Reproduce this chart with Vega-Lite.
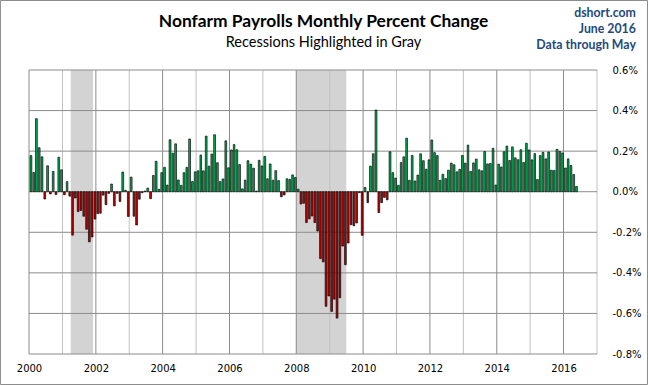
{
  "$schema": "https://vega.github.io/schema/vega-lite/v6.json",
  "width": 568,
  "height": 284,
  "autosize": "none",
  "padding": {"left": 29, "top": 70, "right": 51, "bottom": 31},
  "background": "white",
  "config": {"view": {"stroke": null}},
  "datasets": {
    "payrolls": [
      {"date": "2000-01-01", "pct": 0.178}, {"date": "2000-02-01", "pct": 0.095}, {"date": "2000-03-01", "pct": 0.36}, {"date": "2000-04-01", "pct": 0.217}, {"date": "2000-05-01", "pct": 0.172}, {"date": "2000-06-01", "pct": -0.036}, {"date": "2000-07-01", "pct": 0.128}, {"date": "2000-08-01", "pct": -0.011}, {"date": "2000-09-01", "pct": 0.1}, {"date": "2000-10-01", "pct": -0.014}, {"date": "2000-11-01", "pct": 0.17}, {"date": "2000-12-01", "pct": 0.108},
      {"date": "2001-01-01", "pct": -0.015}, {"date": "2001-02-01", "pct": 0.05}, {"date": "2001-03-01", "pct": -0.022}, {"date": "2001-04-01", "pct": -0.214}, {"date": "2001-05-01", "pct": -0.031}, {"date": "2001-06-01", "pct": -0.098}, {"date": "2001-07-01", "pct": -0.092}, {"date": "2001-08-01", "pct": -0.121}, {"date": "2001-09-01", "pct": -0.185}, {"date": "2001-10-01", "pct": -0.247}, {"date": "2001-11-01", "pct": -0.223}, {"date": "2001-12-01", "pct": -0.135},
      {"date": "2002-01-01", "pct": -0.108}, {"date": "2002-02-01", "pct": -0.106}, {"date": "2002-03-01", "pct": -0.017}, {"date": "2002-04-01", "pct": -0.064}, {"date": "2002-05-01", "pct": -0.008}, {"date": "2002-06-01", "pct": 0.038}, {"date": "2002-07-01", "pct": -0.07}, {"date": "2002-08-01", "pct": -0.008}, {"date": "2002-09-01", "pct": -0.048}, {"date": "2002-10-01", "pct": 0.097}, {"date": "2002-11-01", "pct": 0.007}, {"date": "2002-12-01", "pct": -0.122},
      {"date": "2003-01-01", "pct": 0.072}, {"date": "2003-02-01", "pct": -0.121}, {"date": "2003-03-01", "pct": -0.164}, {"date": "2003-04-01", "pct": -0.037}, {"date": "2003-05-01", "pct": -0.005}, {"date": "2003-06-01", "pct": 0.003}, {"date": "2003-07-01", "pct": 0.018}, {"date": "2003-08-01", "pct": -0.034}, {"date": "2003-09-01", "pct": 0.08}, {"date": "2003-10-01", "pct": 0.15}, {"date": "2003-11-01", "pct": 0.012}, {"date": "2003-12-01", "pct": 0.094},
      {"date": "2004-01-01", "pct": 0.12}, {"date": "2004-02-01", "pct": 0.033}, {"date": "2004-03-01", "pct": 0.256}, {"date": "2004-04-01", "pct": 0.19}, {"date": "2004-05-01", "pct": 0.236}, {"date": "2004-06-01", "pct": 0.058}, {"date": "2004-07-01", "pct": 0.031}, {"date": "2004-08-01", "pct": 0.094}, {"date": "2004-09-01", "pct": 0.12}, {"date": "2004-10-01", "pct": 0.26}, {"date": "2004-11-01", "pct": 0.05}, {"date": "2004-12-01", "pct": 0.098},
      {"date": "2005-01-01", "pct": 0.103}, {"date": "2005-02-01", "pct": 0.181}, {"date": "2005-03-01", "pct": 0.103}, {"date": "2005-04-01", "pct": 0.274}, {"date": "2005-05-01", "pct": 0.126}, {"date": "2005-06-01", "pct": 0.186}, {"date": "2005-07-01", "pct": 0.281}, {"date": "2005-08-01", "pct": 0.143}, {"date": "2005-09-01", "pct": 0.05}, {"date": "2005-10-01", "pct": 0.063}, {"date": "2005-11-01", "pct": 0.251}, {"date": "2005-12-01", "pct": 0.118},
      {"date": "2006-01-01", "pct": 0.206}, {"date": "2006-02-01", "pct": 0.233}, {"date": "2006-03-01", "pct": 0.207}, {"date": "2006-04-01", "pct": 0.134}, {"date": "2006-05-01", "pct": 0.014}, {"date": "2006-06-01", "pct": 0.057}, {"date": "2006-07-01", "pct": 0.153}, {"date": "2006-08-01", "pct": 0.136}, {"date": "2006-09-01", "pct": 0.116}, {"date": "2006-10-01", "pct": 0.003}, {"date": "2006-11-01", "pct": 0.155}, {"date": "2006-12-01", "pct": 0.127},
      {"date": "2007-01-01", "pct": 0.174}, {"date": "2007-02-01", "pct": 0.064}, {"date": "2007-03-01", "pct": 0.137}, {"date": "2007-04-01", "pct": 0.057}, {"date": "2007-05-01", "pct": 0.104}, {"date": "2007-06-01", "pct": 0.055}, {"date": "2007-07-01", "pct": -0.025}, {"date": "2007-08-01", "pct": -0.016}, {"date": "2007-09-01", "pct": 0.064}, {"date": "2007-10-01", "pct": 0.061}, {"date": "2007-11-01", "pct": 0.083}, {"date": "2007-12-01", "pct": 0.07},
      {"date": "2008-01-01", "pct": 0.012}, {"date": "2008-02-01", "pct": -0.061}, {"date": "2008-03-01", "pct": -0.057}, {"date": "2008-04-01", "pct": -0.152}, {"date": "2008-05-01", "pct": -0.134}, {"date": "2008-06-01", "pct": -0.12}, {"date": "2008-07-01", "pct": -0.152}, {"date": "2008-08-01", "pct": -0.194}, {"date": "2008-09-01", "pct": -0.33}, {"date": "2008-10-01", "pct": -0.346}, {"date": "2008-11-01", "pct": -0.565}, {"date": "2008-12-01", "pct": -0.514},
      {"date": "2009-01-01", "pct": -0.59}, {"date": "2009-02-01", "pct": -0.53}, {"date": "2009-03-01", "pct": -0.623}, {"date": "2009-04-01", "pct": -0.523}, {"date": "2009-05-01", "pct": -0.268}, {"date": "2009-06-01", "pct": -0.36}, {"date": "2009-07-01", "pct": -0.253}, {"date": "2009-08-01", "pct": -0.163}, {"date": "2009-09-01", "pct": -0.168}, {"date": "2009-10-01", "pct": -0.154}, {"date": "2009-11-01", "pct": -0.005}, {"date": "2009-12-01", "pct": -0.215},
      {"date": "2010-01-01", "pct": 0.021}, {"date": "2010-02-01", "pct": -0.054}, {"date": "2010-03-01", "pct": 0.126}, {"date": "2010-04-01", "pct": 0.187}, {"date": "2010-05-01", "pct": 0.403}, {"date": "2010-06-01", "pct": -0.103}, {"date": "2010-07-01", "pct": -0.054}, {"date": "2010-08-01", "pct": -0.028}, {"date": "2010-09-01", "pct": -0.04}, {"date": "2010-10-01", "pct": 0.197}, {"date": "2010-11-01", "pct": 0.094}, {"date": "2010-12-01", "pct": 0.067},
      {"date": "2011-01-01", "pct": 0.032}, {"date": "2011-02-01", "pct": 0.144}, {"date": "2011-03-01", "pct": 0.172}, {"date": "2011-04-01", "pct": 0.264}, {"date": "2011-05-01", "pct": 0.056}, {"date": "2011-06-01", "pct": 0.179}, {"date": "2011-07-01", "pct": 0.053}, {"date": "2011-08-01", "pct": 0.082}, {"date": "2011-09-01", "pct": 0.187}, {"date": "2011-10-01", "pct": 0.153}, {"date": "2011-11-01", "pct": 0.111}, {"date": "2011-12-01", "pct": 0.157},
      {"date": "2012-01-01", "pct": 0.255}, {"date": "2012-02-01", "pct": 0.193}, {"date": "2012-03-01", "pct": 0.178}, {"date": "2012-04-01", "pct": 0.056}, {"date": "2012-05-01", "pct": 0.086}, {"date": "2012-06-01", "pct": 0.065}, {"date": "2012-07-01", "pct": 0.106}, {"date": "2012-08-01", "pct": 0.141}, {"date": "2012-09-01", "pct": 0.133}, {"date": "2012-10-01", "pct": 0.098}, {"date": "2012-11-01", "pct": 0.11}, {"date": "2012-12-01", "pct": 0.179},
      {"date": "2013-01-01", "pct": 0.141}, {"date": "2013-02-01", "pct": 0.23}, {"date": "2013-03-01", "pct": 0.1}, {"date": "2013-04-01", "pct": 0.142}, {"date": "2013-05-01", "pct": 0.161}, {"date": "2013-06-01", "pct": 0.108}, {"date": "2013-07-01", "pct": 0.103}, {"date": "2013-08-01", "pct": 0.198}, {"date": "2013-09-01", "pct": 0.137}, {"date": "2013-10-01", "pct": 0.139}, {"date": "2013-11-01", "pct": 0.214}, {"date": "2013-12-01", "pct": 0.033},
      {"date": "2014-01-01", "pct": 0.136}, {"date": "2014-02-01", "pct": 0.122}, {"date": "2014-03-01", "pct": 0.197}, {"date": "2014-04-01", "pct": 0.225}, {"date": "2014-05-01", "pct": 0.154}, {"date": "2014-06-01", "pct": 0.221}, {"date": "2014-07-01", "pct": 0.167}, {"date": "2014-08-01", "pct": 0.158}, {"date": "2014-09-01", "pct": 0.207}, {"date": "2014-10-01", "pct": 0.144}, {"date": "2014-11-01", "pct": 0.239}, {"date": "2014-12-01", "pct": 0.206},
      {"date": "2015-01-01", "pct": 0.157}, {"date": "2015-02-01", "pct": 0.188}, {"date": "2015-03-01", "pct": 0.06}, {"date": "2015-04-01", "pct": 0.178}, {"date": "2015-05-01", "pct": 0.194}, {"date": "2015-06-01", "pct": 0.162}, {"date": "2015-07-01", "pct": 0.196}, {"date": "2015-08-01", "pct": 0.106}, {"date": "2015-09-01", "pct": 0.105}, {"date": "2015-10-01", "pct": 0.209}, {"date": "2015-11-01", "pct": 0.198}, {"date": "2015-12-01", "pct": 0.191},
      {"date": "2016-01-01", "pct": 0.117}, {"date": "2016-02-01", "pct": 0.162}, {"date": "2016-03-01", "pct": 0.129}, {"date": "2016-04-01", "pct": 0.085}, {"date": "2016-05-01", "pct": 0.026}
    ],
    "recessions": [
      {"start": "2001-04-01", "end": "2001-12-01"},
      {"start": "2008-01-01", "end": "2009-07-01"}
    ],
    "evenYears": [
      {"year": "2000-01-01"}, {"year": "2002-01-01"}, {"year": "2004-01-01"}, {"year": "2006-01-01"}, {"year": "2008-01-01"}, {"year": "2010-01-01"}, {"year": "2012-01-01"}, {"year": "2014-01-01"}, {"year": "2016-01-01"}
    ],
    "oddYears": [
      {"year": "2001-01-01"}, {"year": "2003-01-01"}, {"year": "2005-01-01"}, {"year": "2007-01-01"}, {"year": "2009-01-01"}, {"year": "2011-01-01"}, {"year": "2013-01-01"}, {"year": "2015-01-01"}, {"year": "2017-01-01"}
    ],
    "levels": [
      {"v": -0.8}, {"v": -0.6}, {"v": -0.4}, {"v": -0.2}, {"v": 0}, {"v": 0.2}, {"v": 0.4}, {"v": 0.6}
    ]
  },
  "layer": [
    {
      "data": {"name": "recessions"},
      "mark": {"type": "rect", "color": "#D3D3D3"},
      "encoding": {
        "x": {
          "field": "start", "type": "temporal",
          "scale": {"type": "utc", "domain": [{"year": 2000, "month": 1, "date": 1, "utc": true}, {"year": 2017, "month": 1, "date": 1, "utc": true}]},
          "axis": {
            "title": null,
            "values": [
              {"year": 2000, "month": 1, "date": 1, "utc": true}, {"year": 2002, "month": 1, "date": 1, "utc": true}, {"year": 2004, "month": 1, "date": 1, "utc": true}, {"year": 2006, "month": 1, "date": 1, "utc": true}, {"year": 2008, "month": 1, "date": 1, "utc": true}, {"year": 2010, "month": 1, "date": 1, "utc": true}, {"year": 2012, "month": 1, "date": 1, "utc": true}, {"year": 2014, "month": 1, "date": 1, "utc": true}, {"year": 2016, "month": 1, "date": 1, "utc": true}
            ],
            "labelExpr": "utcFormat(datum.value, '%Y')",
            "labelFlush": false,
            "labelOverlap": false,
            "domain": false,
            "ticks": false,
            "grid": false,
            "labelPadding": 9,
            "labelFont": "DejaVu Sans",
            "labelFontSize": 10,
            "labelColor": "black"
          }
        },
        "x2": {"field": "end"}
      }
    },
    {
      "data": {"name": "oddYears"},
      "mark": {"type": "rule", "color": "#C0C0C0", "strokeWidth": 1},
      "encoding": {"x": {"field": "year", "type": "temporal"}}
    },
    {
      "data": {"name": "evenYears"},
      "mark": {"type": "rule", "color": "#8C8C8C", "strokeWidth": 1},
      "encoding": {"x": {"field": "year", "type": "temporal"}}
    },
    {
      "data": {"name": "levels"},
      "mark": {"type": "rule", "color": "#8C8C8C", "strokeWidth": 1},
      "encoding": {
        "y": {
          "field": "v", "type": "quantitative",
          "scale": {"domain": [-0.8, 0.6], "nice": false, "zero": false},
          "axis": {
            "orient": "right",
            "title": null,
            "values": [-0.8, -0.6, -0.4, -0.2, 0, 0.2, 0.4, 0.6],
            "labelExpr": "replace(format(datum.value, '.1f'), '\u2212', '-') + '%'",
            "domain": false,
            "ticks": false,
            "grid": false,
            "labelPadding": 15,
            "labelFont": "DejaVu Sans",
            "labelFontSize": 10,
            "labelColor": "black"
          }
        }
      }
    },
    {
      "data": {"name": "payrolls"},
      "mark": {"type": "bar", "stroke": "black", "strokeWidth": 0.65},
      "encoding": {
        "x": {"field": "date", "type": "temporal", "timeUnit": "utcyearmonth"},
        "y": {"field": "pct", "type": "quantitative"},
        "color": {"condition": {"test": "datum.pct < 0", "value": "#C00000"}, "value": "#00B050"}
      }
    },
    {
      "data": {"values": [{"label": "Nonfarm Payrolls Monthly Percent Change"}]},
      "mark": {"type": "text", "align": "center", "baseline": "middle", "font": "Lato", "fontSize": 17.4, "fontWeight": "bold", "color": "black"},
      "encoding": {
        "text": {"field": "label"},
        "x": {"datum": {"year": 2008, "month": 10, "date": 25, "utc": true}, "type": "temporal"},
        "y": {"datum": 0.837}
      }
    },
    {
      "data": {"values": [{"label": "Recessions Highlighted in Gray"}]},
      "mark": {"type": "text", "align": "center", "baseline": "middle", "font": "Lato", "fontSize": 14.5, "color": "black"},
      "encoding": {
        "text": {"field": "label"},
        "x": {"datum": {"year": 2008, "month": 10, "date": 25, "utc": true}, "type": "temporal"},
        "y": {"datum": 0.731}
      }
    },
    {
      "data": {"values": [{"lines": ["dshort.com", "June 2016", "Data through May"]}]},
      "mark": {"type": "text", "align": "right", "baseline": "middle", "font": "Lato", "fontSize": 12.3, "fontWeight": "bold", "color": "#1F497D", "lineHeight": 16},
      "encoding": {
        "text": {"field": "lines"},
        "x": {"datum": {"year": 2018, "month": 3, "date": 2, "utc": true}, "type": "temporal"},
        "y": {"datum": 0.879}
      }
    },
    {
      "data": {"values": [{"frame": "chart border"}]},
      "mark": {"type": "rect", "filled": false, "stroke": "#8C8C8C", "strokeWidth": 1, "clip": false},
      "encoding": {
        "x": {"datum": {"year": 1999, "month": 2, "date": 23, "utc": true}, "type": "temporal"},
        "x2": {"datum": {"year": 2018, "month": 7, "date": 7, "utc": true}},
        "y": {"datum": 0.9426},
        "y2": {"datum": -0.9504}
      }
    }
  ]
}
